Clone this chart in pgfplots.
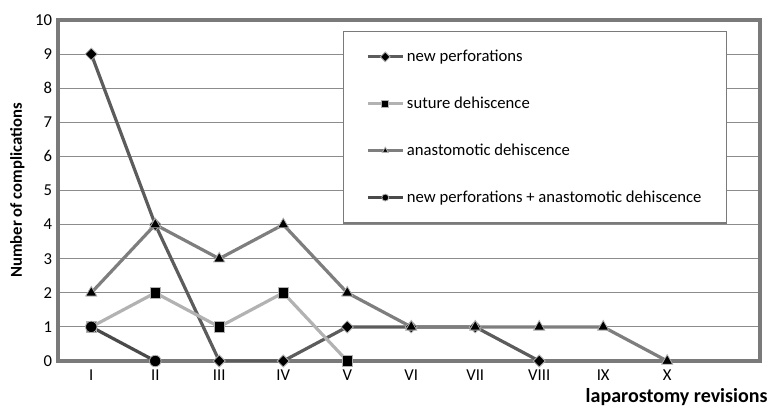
\documentclass[border=0pt]{standalone}
\usepackage{pgfplots}
\pgfplotsset{compat=1.18}
\usepackage{fontspec}
\setmainfont{Carlito}
\definecolor{cNP}{HTML}{5C5C5C}
\definecolor{cSD}{HTML}{B2B2B2}
\definecolor{cAD}{HTML}{7E7E7E}
\definecolor{cNA}{HTML}{4A4A4A}
\definecolor{cFrame}{HTML}{7A7A7A}
\definecolor{cGrid}{HTML}{8C8C8C}
\begin{document}
\begin{tikzpicture}
\path (0,0) rectangle (578.25pt,306pt);
\begin{axis}[
  at={(43.5pt,35.25pt)}, anchor=south west,
  scale only axis, width=526.5pt, height=255.75pt,
  xmin=0.48, xmax=11.45, ymin=0, ymax=10,
  ytick={0,1,...,10},
  xtick={1,...,10},
  xticklabels={I,II,III,IV,V,VI,VII,VIII,IX,X},
  major tick length=0pt,
  ymajorgrids,
  grid style={color=cGrid, line width=0.8pt},
  axis line style={color=cFrame, line width=2.3pt},
  /pgf/number format/assume math mode=true,
  tick label style={font=\fontsize{12.5}{14}\selectfont, text=black},
  yticklabel style={xshift=-1pt},
  xticklabel style={yshift=-3pt},
  xlabel={\textbf{laparostomy revisions}},
  xlabel style={at={(axis description cs:1.011,-0.106)}, anchor=east, font=\fontsize{15}{17}\selectfont, inner sep=0pt},
  ylabel={\textbf{Number of complications}},
  ylabel style={at={(axis description cs:-0.058,0.5)}, anchor=center, font=\fontsize{12.5}{14}\selectfont, inner sep=0pt},
  legend cell align=left,
  legend style={at={(axis description cs:0.406,0.968)}, anchor=north west,
    draw=cFrame, line width=0.8pt, fill=white,
    font=\fontsize{12.5}{14}\selectfont,
    row sep=21pt, inner xsep=17pt, inner ysep=12pt},
  legend image code/.code={%
    \draw[#1, mark size=2.6pt, mark repeat=2, mark phase=2] plot coordinates {(0cm,0cm) (0.46cm,0cm) (0.92cm,0cm)};},
  every axis plot/.append style={line width=2.4pt},
]
\addplot[color=cNP, mark=square*, mark size=3.2pt, mark options={rotate=45, fill=black, draw=cSD, line width=0.6pt}]
  coordinates {(1,9) (2,4) (3,0) (4,0) (5,1) (6,1) (7,1) (8,0)};
\addlegendentry{new perforations}
\addplot[color=cSD, mark=square*, mark size=3.9pt, mark options={fill=black, draw=cSD, line width=0.6pt}]
  coordinates {(1,1) (2,2) (3,1) (4,2) (5,0)};
\addlegendentry{suture dehiscence}
\addplot[color=cAD, mark=triangle*, mark size=4.8pt, mark options={fill=black, draw=cSD, line width=0.6pt}]
  coordinates {(1,2) (2,4) (3,3) (4,4) (5,2) (6,1) (7,1) (8,1) (9,1) (10,0)};
\addlegendentry{anastomotic dehiscence}
\addplot[color=cNA, mark=*, mark size=4.3pt, mark options={fill=black, draw=cSD, line width=0.6pt}]
  coordinates {(1,1) (2,0)};
\addlegendentry{new perforations + anastomotic dehiscence}
\end{axis}
\end{tikzpicture}
\end{document}
